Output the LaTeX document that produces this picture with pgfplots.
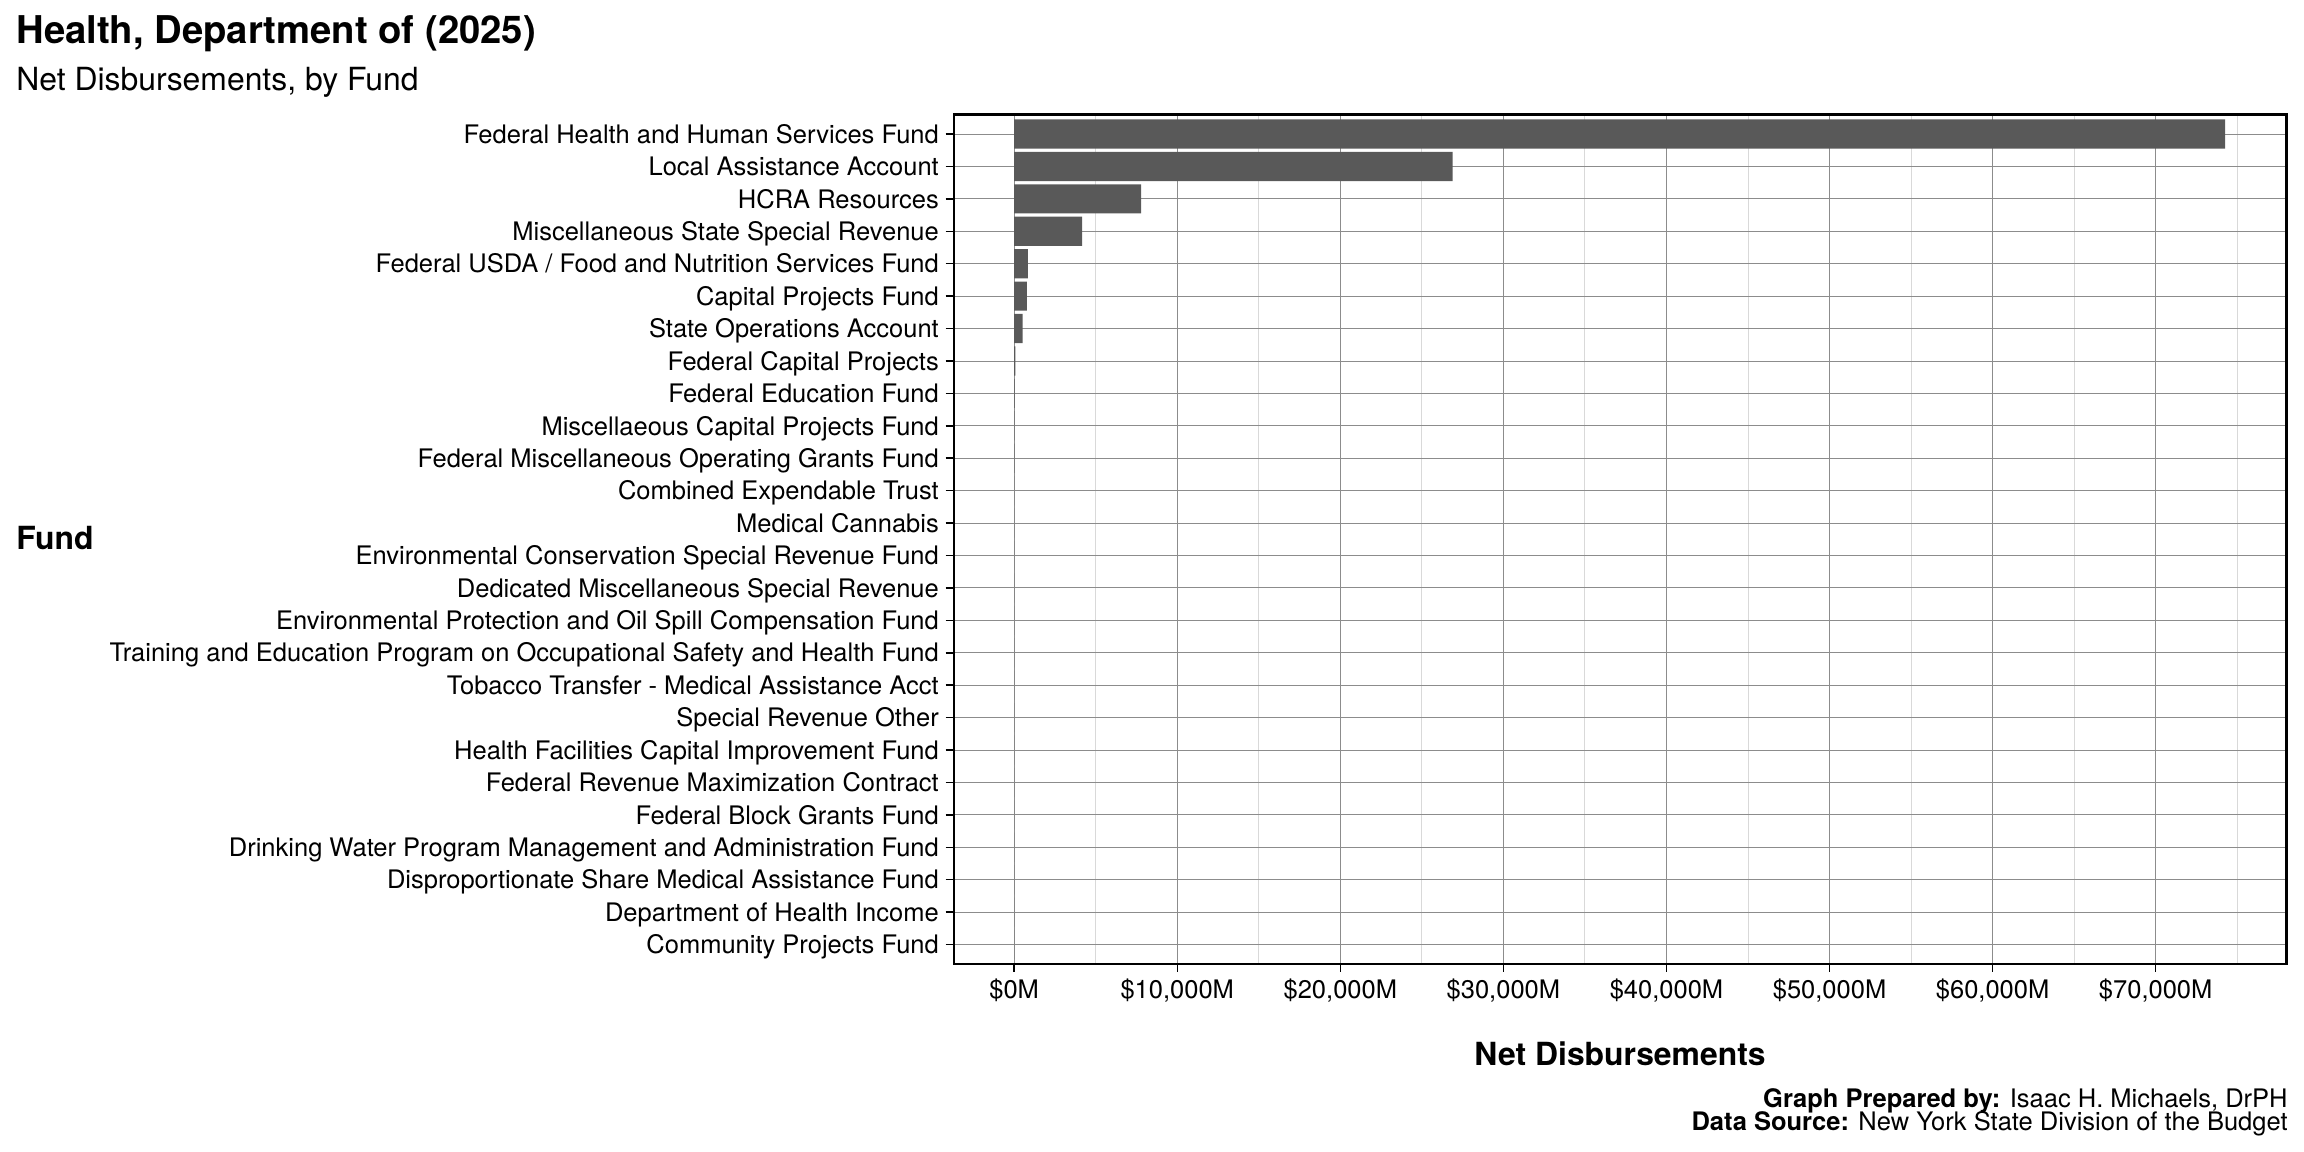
\documentclass[border=0pt]{standalone}
\usepackage{pgfplots}
\pgfplotsset{compat=1.18}
\usepackage{fontspec}
\setmainfont{TeX Gyre Heros}
\definecolor{barc}{HTML}{595959}
\pgfplotstableread{
y val
26 74260
25 26890
24 7790
23 4160
22 840
21 775
20 510
19 70
18 20
17 8
16 5
15 3
14 2
13 1.5
12 1.2
11 1
10 0.8
9 0.6
8 0.4
7 0.3
6 0.2
5 0.1
4 0.1
3 0.05
2 0.02
1 0
}\funddata
\begin{document}
\begin{tikzpicture}
\path[use as bounding box] (0,0) rectangle (1152bp,576bp);
\begin{axis}[
  at={(476.8bp,94bp)}, anchor=south west,
  scale only axis, width=666.4bp, height=424.7bp,
  xbar, bar width=0.9,
  xmin=-3715, xmax=78015, ymin=0.4, ymax=26.6,
  scaled x ticks=false,
  xtick={0,10000,20000,30000,40000,50000,60000,70000},
  xticklabels={{\$0M},{\$10,000M},{\$20,000M},{\$30,000M},{\$40,000M},{\$50,000M},{\$60,000M},{\$70,000M}},
  minor xtick={5000,15000,25000,35000,45000,55000,65000,75000},
  ytick={1,...,26},
  yticklabels={
    {Community Projects Fund},
    {Department of Health Income},
    {Disproportionate Share Medical Assistance Fund},
    {Drinking Water Program Management and Administration Fund},
    {Federal Block Grants Fund},
    {Federal Revenue Maximization Contract},
    {Health Facilities Capital Improvement Fund},
    {Special Revenue Other},
    {Tobacco Transfer - Medical Assistance Acct},
    {Training and Education Program on Occupational Safety and Health Fund},
    {Environmental Protection and Oil Spill Compensation Fund},
    {Dedicated Miscellaneous Special Revenue},
    {Environmental Conservation Special Revenue Fund},
    {Medical Cannabis},
    {Combined Expendable Trust},
    {Federal Miscellaneous Operating Grants Fund},
    {Miscellaeous Capital Projects Fund},
    {Federal Education Fund},
    {Federal Capital Projects},
    {State Operations Account},
    {Capital Projects Fund},
    {Federal USDA / Food and Nutrition Services Fund},
    {Miscellaneous State Special Revenue},
    {HCRA Resources},
    {Local Assistance Account},
    {Federal Health and Human Services Fund}},
  xmajorgrids, ymajorgrids, xminorgrids,
  major grid style={black!45, line width=0.45bp},
  minor grid style={black!15, line width=0.45bp},
  tick align=outside,
  major tick length=4bp,
  minor tick length=0pt,
  xtick pos=bottom, ytick pos=left,
  tick style={black, line width=0.75bp},
  axis line style={black, line width=1.1bp},
  ticklabel style={font=\fontsize{12.8}{14}\selectfont, text=black, inner sep=0pt},
  yticklabel style={text depth=0pt, text height=9.2bp},
  xticklabel shift=3.2bp,
  yticklabel shift=3.2bp,
]
\addplot[fill=barc, draw=none] table[x=val, y=y] {\funddata};
\end{axis}
\node[anchor=base west, inner sep=0pt, font=\fontsize{19.2}{23}\selectfont\bfseries] at (8bp,554bp) {Health, Department of (2025)};
\node[anchor=base west, inner sep=0pt, font=\fontsize{16}{19}\selectfont] at (8bp,530.5bp) {Net Disbursements, by Fund};
\node[anchor=west, inner sep=0pt, font=\fontsize{16}{19}\selectfont\bfseries] at (8bp,307bp) {Fund};
\node[anchor=base, inner sep=0pt, font=\fontsize{16}{19}\selectfont\bfseries] at (810bp,43.4bp) {Net Disbursements};
\node[anchor=base east, inner sep=0pt, font=\fontsize{12.8}{14}\selectfont] at (1144bp,22.2bp) {\textbf{Graph Prepared by:} Isaac H. Michaels, DrPH};
\node[anchor=base east, inner sep=0pt, font=\fontsize{12.8}{14}\selectfont] at (1144bp,10.7bp) {\textbf{Data Source:} New York State Division of the Budget};
\end{tikzpicture}
\end{document}
